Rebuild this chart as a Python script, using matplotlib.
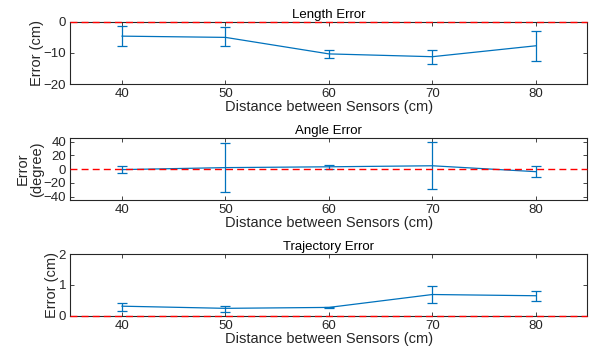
import matplotlib
matplotlib.use('Agg')
import matplotlib.pyplot as plt

plt.rcParams['font.family'] = ['Liberation Sans', 'DejaVu Sans']

# distances between sensors (cm)
distances = [40, 50, 60, 70, 80]

# length error (cm): mean, lower / upper bar ends
lengthMean = [-4.6, -5.0, -10.3, -11.2, -7.7]
lengthLow = [-7.9, -7.8, -11.6, -13.7, -12.6]
lengthHigh = [-1.3, -1.8, -9.0, -8.9, -2.8]

# angle error (degree)
angleMean = [-0.7, 2.2, 3.4, 4.9, -3.7]
angleLow = [-6.3, -33.8, 0.5, -29.4, -11.8]
angleHigh = [4.9, 38.2, 6.3, 39.2, 4.4]

# trajectory error (cm)
trajMean = [0.31, 0.24, 0.27, 0.69, 0.65]
trajLow = [0.15, 0.11, 0.25, 0.41, 0.49]
trajHigh = [0.42, 0.33, 0.29, 0.98, 0.82]

BLUE = (0, 0.447, 0.741)
AXCOL = (0.15, 0.15, 0.15)


# draws one MATLAB-like errorbar panel
def createErrorPanel(ax, mean, low, high, yLabel, title, ylim, yticks):
    yerr = [[m - l for m, l in zip(mean, low)], [h - m for m, h in zip(mean, high)]]
    ax.errorbar(distances, mean, yerr=yerr, color=BLUE, lw=0.9, elinewidth=0.9,
                capsize=3.5, capthick=0.9, zorder=3)
    ax.axhline(0, color='red', ls='--', lw=1, dashes=(5, 3), zorder=4, clip_on=False)
    ax.set_xlim(35, 85)
    ax.set_ylim(*ylim)
    ax.set_xticks([40, 50, 60, 70, 80])
    ax.set_yticks(yticks)
    ax.set_xlabel('Distance between Sensors (cm)', fontsize=10.5, labelpad=0, color=AXCOL)
    ax.set_ylabel(yLabel, fontsize=10.5, labelpad=0, color=AXCOL, linespacing=1.0)
    ax.set_title(title, fontsize=9.5, pad=3)
    ax.tick_params(direction='in', top=True, right=True, length=3, width=0.6,
                   labelsize=9.5, colors=AXCOL, pad=3)
    for s in ax.spines.values():
        s.set_color(AXCOL)
        s.set_linewidth(0.8)


fig = plt.figure(figsize=(5.9, 3.49), dpi=100)
ax1 = fig.add_axes([0.1192, 0.759, 0.8765, 0.1785])
ax2 = fig.add_axes([0.1192, 0.427, 0.8765, 0.1768])
ax3 = fig.add_axes([0.1192, 0.0954, 0.8765, 0.176])

createErrorPanel(ax1, lengthMean, lengthLow, lengthHigh, 'Error (cm)', 'Length Error',
                 (-20, 0), [-20, -10, 0])
createErrorPanel(ax2, angleMean, angleLow, angleHigh, 'Error\n(degree)', 'Angle Error',
                 (-45, 45), [-40, -20, 0, 20, 40])
createErrorPanel(ax3, trajMean, trajLow, trajHigh, 'Error (cm)', 'Trajectory Error',
                 (0, 2), [0, 1, 2])

fig.savefig('out.png', dpi=100)
